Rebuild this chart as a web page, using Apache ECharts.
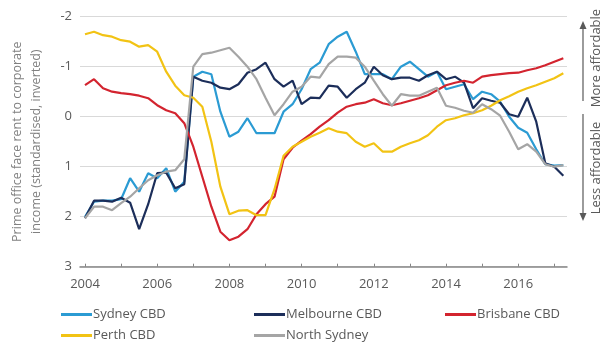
<!DOCTYPE html>
<html><head><meta charset="utf-8">
<script src="https://cdn.jsdelivr.net/npm/echarts@6/dist/echarts.min.js"></script>
<style>html,body{margin:0;padding:0;background:#fff}#c{width:606px;height:343px}</style>
</head><body><div id="c"></div>
<script>
// Quarterly observations (decimal years)
const quarters = [2004,2004.25,2004.5,2004.75,2005,2005.25,2005.5,2005.75,2006,2006.25,2006.5,2006.75,
  2007,2007.25,2007.5,2007.75,2008,2008.25,2008.5,2008.75,2009,2009.25,2009.5,2009.75,
  2010,2010.25,2010.5,2010.75,2011,2011.25,2011.5,2011.75,2012,2012.25,2012.5,2012.75,
  2013,2013.25,2013.5,2013.75,2014,2014.25,2014.5,2014.75,2015,2015.25,2015.5,2015.75,
  2016,2016.25,2016.5,2016.75,2017,2017.25];

const sydney = [2.0,1.7,1.68,1.68,1.65,1.23,1.5,1.13,1.23,1.03,1.5,1.3,
  -0.8,-0.9,-0.85,-0.1,0.4,0.3,0.03,0.33,0.33,0.33,
  -0.1,-0.25,-0.55,-0.95,-1.08,-1.45,-1.6,-1.7,-1.3,-0.85,
  -0.85,-0.85,-0.75,-1.0,-1.1,-0.95,-0.8,-0.9,-0.55,-0.6,
  -0.65,-0.35,-0.5,-0.45,-0.3,0.0,0.22,0.32,0.65,0.95,0.98,0.97];

const melbourne = [2.03,1.68,1.68,1.7,1.62,1.72,2.25,1.75,1.13,1.12,1.43,1.35,
  -0.8,-0.72,-0.68,-0.58,-0.55,-0.65,-0.88,-0.95,-1.08,-0.75,
  -0.6,-0.72,-0.25,-0.38,-0.37,-0.62,-0.6,-0.38,-0.55,-0.68,
  -1.0,-0.83,-0.75,-0.78,-0.78,-0.72,-0.83,-0.9,-0.75,-0.8,
  -0.68,-0.17,-0.37,-0.32,-0.28,-0.05,0.0,-0.38,0.1,0.93,1.0,1.18];

const brisbane = [-0.63,-0.75,-0.57,-0.5,-0.47,-0.45,-0.42,-0.37,-0.23,-0.13,-0.07,0.13,
  0.6,1.2,1.8,2.3,2.47,2.4,2.25,1.95,1.75,1.6,
  0.85,0.62,0.48,0.35,0.2,0.07,-0.08,-0.2,-0.25,-0.28,
  -0.35,-0.27,-0.23,-0.27,-0.32,-0.37,-0.43,-0.53,-0.63,-0.68,
  -0.72,-0.68,-0.8,-0.83,-0.85,-0.87,-0.88,-0.93,-0.97,-1.03,-1.1,-1.17];

const perth = [-1.65,-1.7,-1.63,-1.6,-1.53,-1.5,-1.4,-1.43,-1.3,-0.9,-0.62,-0.43,
  -0.38,-0.2,0.5,1.4,1.95,1.88,1.87,1.97,1.97,1.45,
  0.78,0.6,0.5,0.4,0.32,0.23,0.3,0.33,0.5,0.6,
  0.53,0.7,0.7,0.6,0.53,0.47,0.37,0.2,0.07,0.03,
  -0.03,-0.07,-0.13,-0.22,-0.33,-0.41,-0.5,-0.57,-0.63,-0.7,-0.77,-0.87];

const northSydney = [2.03,1.8,1.8,1.87,1.73,1.6,1.43,1.27,1.17,1.1,1.07,0.85,
  -1.0,-1.25,-1.28,-1.33,-1.38,-1.2,-1.0,-0.75,-0.38,-0.03,
  -0.25,-0.5,-0.6,-0.8,-0.78,-1.05,-1.2,-1.2,-1.18,-1.0,
  -0.72,-0.45,-0.22,-0.45,-0.42,-0.42,-0.5,-0.58,-0.22,-0.18,
  -0.12,-0.08,-0.25,-0.15,-0.02,0.3,0.65,0.55,0.7,0.95,1.0,0.97];

const seriesNames = ['Sydney CBD','Melbourne CBD','Brisbane CBD','Perth CBD','North Sydney'];
const seriesColors = ['#2b9bd3','#1c2e5a','#d3242f','#f2c314','#a5a5a5'];
const seriesValues = [sydney, melbourne, brisbane, perth, northSydney];

const xLabels = [2004,2006,2008,2010,2012,2014,2016];
const xTicks = [2004,2005,2006,2007,2008,2009,2010,2011,2012,2013,2014,2015,2016,2017];
const yMin = -2, yMax = 3, yStep = 1;
const yTitle = 'Prime office face rent to corporate\nincome (standardised, inverted)';
const moreText = 'More affordable';
const lessText = 'Less affordable';

const FONT = '"Open Sans", Lato, sans-serif';
const chart = echarts.init(document.getElementById('c'), null, {renderer:'canvas'});
const xMin = 2003.8615, xMax = 2017.352;

// legend slot positions (layout only)
const legendPos = {
  'Sydney CBD':[61,308], 'Melbourne CBD':[254,308], 'Brisbane CBD':[445,308],
  'Perth CBD':[61,329], 'North Sydney':[254,329]
};

const option = {
  animation: false,
  backgroundColor: '#fff',
  textStyle: {fontFamily: FONT},
  grid: {left: 80, right: 39, top: 16.7, bottom: 76.3, containLabel: false},
  xAxis: [
    {type:'value', min:xMin, max:xMax, position:'bottom',
     axisLine:{show:false}, axisTick:{show:false}, splitLine:{show:false},
     axisLabel:{customValues:xLabels, margin:11, color:'#595959', fontSize:13, fontFamily:FONT,
       formatter: v => String(v)}},
    {type:'value', min:xMin, max:xMax, position:'bottom',
     axisLine:{show:true, onZero:true, lineStyle:{color:'#868686', width:1.5}},
     axisTick:{show:true, customValues:xTicks, inside:true, length:3, lineStyle:{color:'#868686', width:1}},
     axisLabel:{show:false}, splitLine:{show:false}}
  ],
  yAxis: {type:'value', inverse:true, min:yMin, max:yMax, interval:yStep,
    axisLine:{show:false}, axisTick:{show:false},
    splitLine:{show:true, lineStyle:{color:'#d9d9d9', width:1}},
    axisLabel:{color:'#595959', fontSize:13, margin:8, fontFamily:FONT},
    name: yTitle, nameLocation:'middle', nameRotate:90, nameGap:53,
    nameTextStyle:{color:'#808080', fontSize:12.5, lineHeight:19, verticalAlign:'middle', align:'center', fontFamily:FONT}
  },
  legend: seriesNames.map(n => ({
    data:[n], left:legendPos[n][0], top:legendPos[n][1], padding:0,
    icon:'rect', itemWidth:31, itemHeight:3,
    textStyle:{color:'#595959', fontSize:13, fontFamily:FONT, padding:[0,0,0,-4]}
  })),
  series: seriesNames.map((n,k) => ({
    name:n, type:'line', xAxisIndex:0, symbol:'none', color:seriesColors[k],
    lineStyle:{width:2.2, color:seriesColors[k]},
    data: quarters.map((q,i) => [q, seriesValues[k][i]])
  })),
  graphic: [
    {type:'line', shape:{x1:583,y1:101,x2:583,y2:27}, style:{stroke:'#595959', lineWidth:1.2}},
    {type:'polygon', shape:{points:[[583,21],[579.5,29],[586.5,29]]}, style:{fill:'#595959'}},
    {type:'line', shape:{x1:583,y1:114,x2:583,y2:214}, style:{stroke:'#595959', lineWidth:1.2}},
    {type:'polygon', shape:{points:[[583,221],[579.5,213],[586.5,213]]}, style:{fill:'#595959'}},
    {type:'text', x:596, y:58, rotation:Math.PI/2,
     style:{text:moreText, fill:'#595959', font:'13px '+FONT, align:'center', verticalAlign:'middle'}},
    {type:'text', x:596, y:168, rotation:Math.PI/2,
     style:{text:lessText, fill:'#595959', font:'13px '+FONT, align:'center', verticalAlign:'middle'}}
  ]
};
chart.setOption(option);
</script></body></html>
